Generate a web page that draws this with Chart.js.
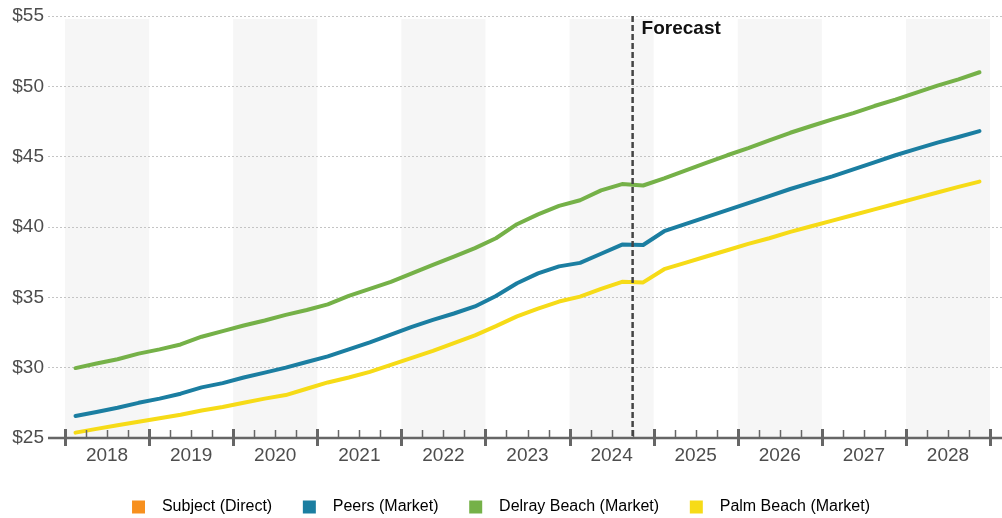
<!DOCTYPE html>
<html>
<head>
<meta charset="utf-8">
<script src="https://cdn.jsdelivr.net/npm/chart.js@4.4.1/dist/chart.umd.min.js"></script>
<style>
  html, body { margin: 0; padding: 0; background: #fff; }
  #wrap { width: 1002px; height: 518px; position: relative; }
</style>
</head>
<body>
<div id="wrap"><canvas id="rentChart"></canvas></div>
<script>
  // Years on the axis, one quarter per point (2018 Q1 .. 2028 Q4)
  const yearLabels = ['2018', '2019', '2020', '2021', '2022', '2023', '2024', '2025', '2026', '2027', '2028'];
  const forecastStart = 27; // quarter boundary where the forecast begins (2024 Q4)

  // Quarterly values
  const subjectDirect = [];
  const peersMarket = [26.57, 26.85, 27.15, 27.5, 27.8, 28.15, 28.6, 28.9, 29.3, 29.65,
    30.0, 30.4, 30.8, 31.3, 31.8, 32.35, 32.9, 33.4, 33.85, 34.35,
    35.1, 36.0, 36.7, 37.2, 37.45, 38.1, 38.75, 38.72, 39.7, 40.2,
    40.7, 41.2, 41.7, 42.2, 42.7, 43.15, 43.6, 44.1, 44.6, 45.1,
    45.55, 46.0, 46.4, 46.82];
  const delrayBeach = [29.97, 30.3, 30.6, 31.0, 31.3, 31.65, 32.2, 32.6, 33.0, 33.35,
    33.75, 34.1, 34.5, 35.1, 35.6, 36.1, 36.7, 37.3, 37.9, 38.5,
    39.2, 40.2, 40.9, 41.5, 41.9, 42.6, 43.05, 42.95, 43.45, 44.0,
    44.55, 45.1, 45.6, 46.15, 46.7, 47.18, 47.65, 48.1, 48.6, 49.05,
    49.55, 50.05, 50.5, 51.0];
  const palmBeach = [25.38, 25.65, 25.9, 26.15, 26.4, 26.65, 26.95, 27.2, 27.5, 27.8,
    28.05, 28.5, 28.95, 29.3, 29.7, 30.2, 30.7, 31.2, 31.75, 32.3,
    32.95, 33.65, 34.2, 34.7, 35.05, 35.6, 36.1, 36.06, 37.0, 37.45,
    37.9, 38.35, 38.8, 39.2, 39.65, 40.05, 40.45, 40.85, 41.25, 41.65,
    42.05, 42.45, 42.85, 43.23];

  const asPoints = (arr) => arr.map((v, i) => ({ x: i + 0.5, y: v }));

  // shaded years, axis with quarter ticks, forecast divider
  const decor = {
    id: 'decor',
    beforeDraw(chart) {
      const { ctx, chartArea, scales: { x } } = chart;
      ctx.save();
      ctx.fillStyle = '#f6f6f6';
      for (let k = 0; k < yearLabels.length; k += 2) {
        const x0 = x.getPixelForValue(4 * k);
        const x1 = x.getPixelForValue(4 * k + 4);
        ctx.fillRect(x0, chartArea.top + 3, x1 - x0, chartArea.bottom - chartArea.top - 3);
      }
      ctx.restore();
    },
    afterDatasetsDraw(chart) {
      const { ctx, chartArea, scales: { x } } = chart;
      const yb = chartArea.bottom;
      ctx.save();
      ctx.strokeStyle = '#666';
      ctx.lineWidth = 2.5;
      ctx.beginPath();
      ctx.moveTo(chartArea.left, yb);
      ctx.lineTo(chartArea.right, yb);
      ctx.stroke();
      for (let q = 0; q <= yearLabels.length * 4; q++) {
        const px = Math.round(x.getPixelForValue(q)) + 0.5;
        ctx.beginPath();
        if (q % 4 === 0) {
          ctx.lineWidth = 3;
          ctx.moveTo(px, yb - 9);
          ctx.lineTo(px, yb + 8);
        } else {
          ctx.lineWidth = 1.5;
          ctx.moveTo(px, yb - 8);
          ctx.lineTo(px, yb);
        }
        ctx.stroke();
      }
      // forecast divider
      const fx = x.getPixelForValue(forecastStart);
      ctx.strokeStyle = '#444';
      ctx.lineWidth = 2.5;
      ctx.setLineDash([6, 3]);
      ctx.beginPath();
      ctx.moveTo(fx, chartArea.top);
      ctx.lineTo(fx, yb);
      ctx.stroke();
      ctx.setLineDash([]);
      ctx.fillStyle = '#111';
      ctx.font = 'bold 19px "Liberation Sans", Arial, sans-serif';
      ctx.textBaseline = 'alphabetic';
      ctx.fillText('Forecast', fx + 9, chartArea.top + 18);
      ctx.restore();
    }
  };

  const ctx = document.getElementById('rentChart').getContext('2d');
  const rentChart = new Chart(ctx, {
    type: 'line',
    data: {
      datasets: [
        {
          label: 'Subject (Direct)',
          data: asPoints(subjectDirect),
          borderColor: '#f7901e',
          backgroundColor: '#f7901e',
        },
        {
          label: 'Peers (Market)',
          data: asPoints(peersMarket),
          borderColor: '#1b7ea1',
          backgroundColor: '#1b7ea1',
        },
        {
          label: 'Delray Beach (Market)',
          data: asPoints(delrayBeach),
          borderColor: '#75b148',
          backgroundColor: '#75b148',
        },
        {
          label: 'Palm Beach (Market)',
          data: asPoints(palmBeach),
          borderColor: '#f6db17',
          backgroundColor: '#f6db17',
        },
      ],
    },
    options: {
      responsive: true,
      maintainAspectRatio: false,
      animation: false,
      layout: { padding: { top: 16, right: 0, bottom: -7, left: 0 } },
      elements: {
        line: { borderWidth: 4, tension: 0, fill: false, borderCapStyle: 'round', borderJoinStyle: 'round' },
        point: { radius: 0, hoverRadius: 0 },
      },
      plugins: {
        tooltip: { enabled: false },
        legend: {
          position: 'bottom',
          labels: {
            boxWidth: 13,
            boxHeight: 13,
            padding: 4,
            color: '#555',
            font: { family: '"Liberation Sans", Arial, sans-serif', size: 16 },
            generateLabels(chart) {
              const n = chart.data.datasets.length;
              return chart.data.datasets.map((ds, i) => ({
                text: '  ' + ds.label + (i < n - 1 ? '      ' : ''),
                fillStyle: ds.backgroundColor,
                strokeStyle: ds.backgroundColor,
                lineWidth: 0,
                hidden: false,
                datasetIndex: i,
              }));
            },
          },
        },
      },
      scales: {
        x: {
          type: 'linear',
          min: -0.809,
          max: 44.571,
          grid: { display: false, drawTicks: false },
          border: { display: false },
          afterBuildTicks(scale) {
            scale.ticks = yearLabels.map((_, k) => ({ value: 4 * k + 2 }));
          },
          afterFit(scale) { scale.height = 57; },
          ticks: {
            autoSkip: false,
            maxRotation: 0,
            padding: 6,
            color: '#4d4d4d',
            font: { family: '"Liberation Sans", Arial, sans-serif', size: 19 },
            callback: (value, index) => yearLabels[index],
          },
        },
        y: {
          min: 25,
          max: 55,
          grid: { color: '#c4c4c4', lineWidth: 1, drawTicks: false },
          border: { display: false, dash: [2, 2] },
          afterFit(scale) { scale.width = 48; },
          ticks: {
            stepSize: 5,
            padding: 4,
            color: '#4d4d4d',
            font: { family: '"Liberation Sans", Arial, sans-serif', size: 19 },
            callback: (value) => '$' + value,
          },
        },
      },
    },
    plugins: [decor],
  });
</script>
</body>
</html>
